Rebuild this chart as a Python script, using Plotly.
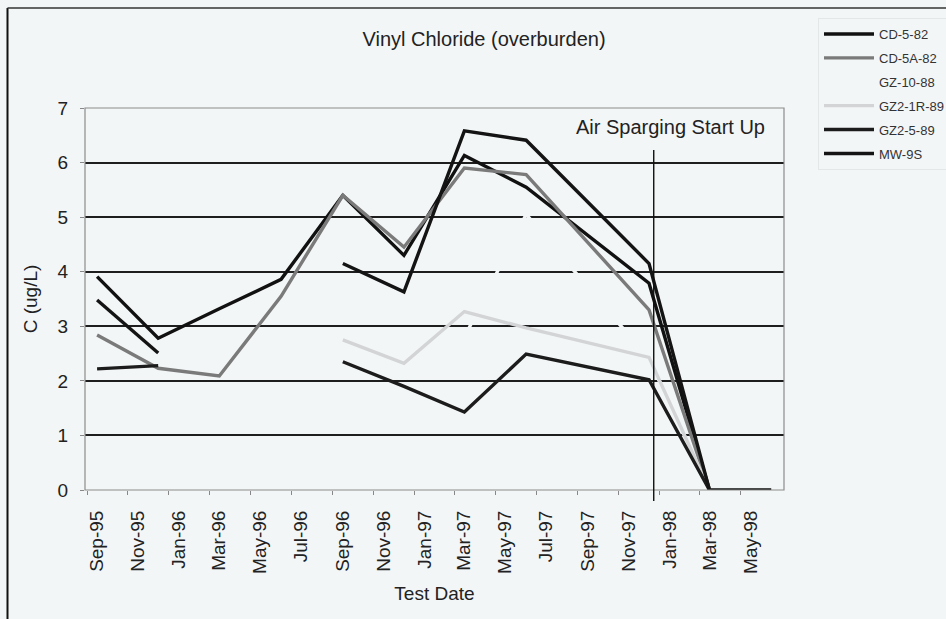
import plotly.graph_objects as go
import pandas as pd

dates = ["1995-09-01", "1995-12-01", "1996-03-01", "1996-06-01", "1996-09-01",
         "1996-12-01", "1997-03-01", "1997-06-01", "1997-12-01", "1998-03-01", "1998-06-01"]

cd_5_82 = [3.91, 2.78, 3.32, 3.86, 5.40, 4.30, 6.13, 5.55, 3.79, 0.0, 0.0]
cd_5a_82 = [2.84, 2.23, 2.09, 3.55, 5.40, 4.45, 5.90, 5.78, 3.30, 0.0, None]
gz_10_88 = [None, None, None, None, None, None, 2.80, 5.05, 2.40, 0.0, None]
gz2_1r_89 = [None, None, None, None, 2.75, 2.32, 3.27, 2.97, 2.43, 0.0, None]
gz2_5_89 = [2.22, 2.28, None, None, 2.35, 1.90, 1.43, 2.49, 2.02, 0.0, None]
mw_9s = [3.48, 2.51, None, None, 4.15, 3.63, 6.58, 6.41, 4.15, 0.0, None]

series_names = ["CD-5-82", "CD-5A-82", "GZ-10-88", "GZ2-1R-89", "GZ2-5-89", "MW-9S"]
series_values = [cd_5_82, cd_5a_82, gz_10_88, gz2_1r_89, gz2_5_89, mw_9s]
series_colors = ["#111111", "#7a7a7a", "#f3f6f7", "#d2d4d5", "#1c1c1c", "#141414"]

tick_dates = ["1995-09-01", "1995-11-01", "1996-01-01", "1996-03-01", "1996-05-01",
              "1996-07-01", "1996-09-01", "1996-11-01", "1997-01-01", "1997-03-01",
              "1997-05-01", "1997-07-01", "1997-09-01", "1997-11-01", "1998-01-01",
              "1998-03-01", "1998-05-01"]
tick_labels = ["Sep-95", "Nov-95", "Jan-96", "Mar-96", "May-96", "Jul-96", "Sep-96",
               "Nov-96", "Jan-97", "Mar-97", "May-97", "Jul-97", "Sep-97", "Nov-97",
               "Jan-98", "Mar-98", "May-98"]

sparge_date = "1997-12-08"
bg = "#f3f6f7"
FONT = "Liberation Sans, Arial, sans-serif"

# tick marks sit a little before the label (Excel style); labels shifted back onto the dates
tick_pos = [(pd.Timestamp(d) - pd.Timedelta(days=15)).strftime("%Y-%m-%d") for d in tick_dates]

fig = go.Figure()
# draw the near-white series first so it sits underneath
order = [2, 0, 1, 3, 4, 5]
for i in order:
    fig.add_trace(go.Scatter(
        x=dates, y=series_values[i], name=series_names[i], mode="lines",
        line=dict(color=series_colors[i], width=3.4),
        connectgaps=False, legendgroup=series_names[i], legendrank=i + 1,
    ))

fig.update_layout(
    width=946, height=619,
    paper_bgcolor=bg, plot_bgcolor=bg,
    margin=dict(l=85, r=162, t=108, b=129, autoexpand=False),
    font=dict(family=FONT, size=19, color="#222222"),
    title=dict(text="Vinyl Chloride (overburden)", x=484 / 946, xanchor="center",
               y=1 - 39 / 619, yanchor="middle", font=dict(size=20)),
    showlegend=True,
    legend=dict(x=(818 - 85) / 699, xanchor="left", y=(490 - 18) / 382, yanchor="top",
                font=dict(family=FONT, size=13, color="#333333"),
                bgcolor=bg, bordercolor="#e4e7e8", borderwidth=1,
                tracegroupgap=4, itemwidth=50),
    xaxis=dict(
        type="date", range=["1995-08-14", "1998-06-20"],
        tickmode="array", tickvals=tick_pos, ticktext=tick_labels,
        ticklabelshift=10, ticklabelstandoff=8,
        tickangle=-90, ticks="outside", ticklen=4, tickcolor="#888888",
        showgrid=False, zeroline=False, showline=False,
        title=dict(text="Test Date", font=dict(size=19), standoff=13),
    ),
    yaxis=dict(
        range=[0, 7], dtick=1, tick0=0,
        showgrid=True, gridcolor="#1e1e1e", gridwidth=1.8,
        zeroline=False, showline=False, ticks="outside", ticklen=4, tickcolor="#888888",
        ticklabelstandoff=8,
        title=dict(text="C (ug/L)", font=dict(size=19), standoff=14),
    ),
    shapes=[
        dict(type="rect", xref="paper", yref="paper", x0=0, x1=1, y0=0, y1=1,
             line=dict(color="#8c8c8c", width=1.2), layer="above"),
        dict(type="line", xref="x", yref="paper", x0=sparge_date, x1=sparge_date,
             y0=-0.029, y1=0.89, line=dict(color="#111111", width=1.4)),
        dict(type="line", xref="paper", yref="paper", x0=-77.5 / 699, x1=-77.5 / 699,
             y0=-0.4, y1=(490 - 8) / 382, line=dict(color="#111111", width=2)),
        dict(type="line", xref="paper", yref="paper", x0=-77.5 / 699, x1=1.3,
             y0=(490 - 8) / 382, y1=(490 - 8) / 382, line=dict(color="#333333", width=1.5)),
    ],
    annotations=[
        dict(text="Air Sparging Start Up", xref="paper", yref="paper",
             x=(767 - 85) / 699, xanchor="right", y=(490 - 127) / 382, yanchor="middle",
             showarrow=False, font=dict(size=20, color="#222222")),
    ],
)

fig.write_html("out.html", config={"displayModeBar": False},
               post_script="document.body.style.margin='0px';document.body.style.overflow='hidden';")
